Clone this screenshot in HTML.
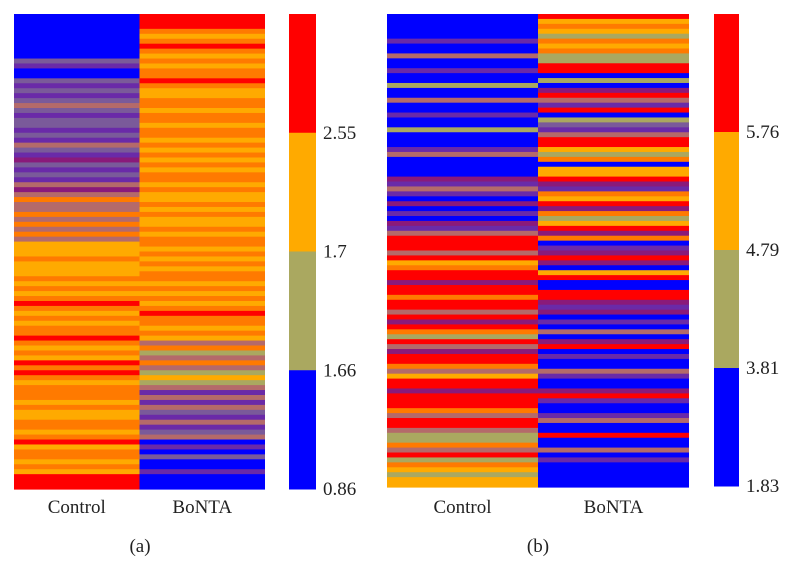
<!DOCTYPE html>
<html><head><meta charset="utf-8">
<style>
html,body{margin:0;padding:0;background:#fff;}
svg{display:block;}
text{font-family:"Liberation Serif",serif;font-size:19px;fill:#222;}
</style></head>
<body>
<svg id="chart" width="798" height="586" viewBox="0 0 798 586"></svg>
<script>
// Row-level category codes (b=lowest bin blue, o=olive, y=orange, r=red; blended: p,v,q,m,d)
const panelACategories = ["Control","BoNTA"];
const panelAControl = "bbbbbbbbb"+"vpbbvpvpvmvpvvpvpmvpqvpvpmq"+"mdmmdmdmdm"+"yyydyyy"+"dydydrdydyddrdydyrdrdydddydyyddydryddydy"+"rrr";
const panelABoNTA = "rrr"+"dydrdydyddrdyyddyddyddydydydyddydyydydyydyddydydyddydydydrddydy"+"mdomdmoyom"+"pmpmvpmpvm"+"bpbvbbp"+"bbb";
const panelBCategories = ["Control","BoNTA"];
const panelBControl = "bbbb"+"bpbbmbbpbbobbmbbpbbobbbpmbbbbqpm"+"pbqbpbqpm"+"rr"+"rmrydrrqrrdrrmrqrdormqrrdm"+"yrrqrrrdmrrmo"+"odmrodyoyy";
const panelBBoNTA = "rydyodydoor"+"rbobqrmprbovpmrryodbyyrqp"+"dyrqdoyrqd"+"bpqrqbyrbbrrqpq"+"bpbmbqrbpbbmpbbqrpbbpmbbrbbmbp"+"bbbbb";
const panelATicks = ["2.55","1.7","1.66","0.86"];
const panelBTicks = ["5.76","4.79","3.81","1.83"];
const binColors = ["#ff0000","#ffaa00","#aaa860","#0000ff"];
const codeColors = {b:"#0000ff",o:"#aaa860",y:"#ffaa00",r:"#ff0000",p:"#6a2aa8",v:"#7a5a9a",q:"#8a1a7a",m:"#b46a6a",d:"#ff7a00"};

const NS="http://www.w3.org/2000/svg";
const svg=document.getElementById('chart');
function mk(tag,attrs,parent){const e=document.createElementNS(NS,tag);for(const k in attrs)e.setAttribute(k,attrs[k]);(parent||svg).appendChild(e);return e;}

function drawPanel(p){
  const g=mk('g',{});
  
  
  const colW=(p.x1-p.x0)/2;
  [p.c1,p.c2].forEach((codes,ci)=>{
    const n=codes.length, rh=(p.y1-p.y0)/n;
    const cg=mk('g',{},g);
    
    
    for(let i=0;i<n;i++){
      const r=mk('rect',{x:p.x0+ci*colW,y:p.y0+i*rh,width:colW,height:rh+0.6,fill:codeColors[codes[i]]},cg);
      
      
    }
    const t=mk('text',{x:p.x0+ci*colW+colW/2,y:513,'text-anchor':'middle'},g);
    t.textContent=p.cats[ci];
    
    
  });
  const bh=(p.by1-p.y0)/4;
  binColors.forEach((c,i)=>{
    const r=mk('rect',{x:p.bx,y:p.y0+i*bh,width:p.bw,height:bh+0.5,fill:c},g);
    
    
  });
  p.ticks.forEach((tk,i)=>{
    const t=mk('text',{x:p.bx+p.bw+7,y:p.y0+(i+1)*bh+6},g);
    t.textContent=tk;
    
    
  });
  const cap=mk('text',{x:p.capX,y:552,'text-anchor':'middle'},g);
  cap.textContent=p.caption;
  
  
}
drawPanel({name:'panel-a',x0:14,x1:265,y0:14,y1:489,by1:489,bx:289,bw:27,c1:panelAControl,c2:panelABoNTA,cats:panelACategories,ticks:panelATicks,caption:'(a)',capX:140});
drawPanel({name:'panel-b',x0:387,x1:689,y0:14,y1:487,by1:486,bx:714,bw:25,c1:panelBControl,c2:panelBBoNTA,cats:panelBCategories,ticks:panelBTicks,caption:'(b)',capX:538});
</script>
</body></html>
